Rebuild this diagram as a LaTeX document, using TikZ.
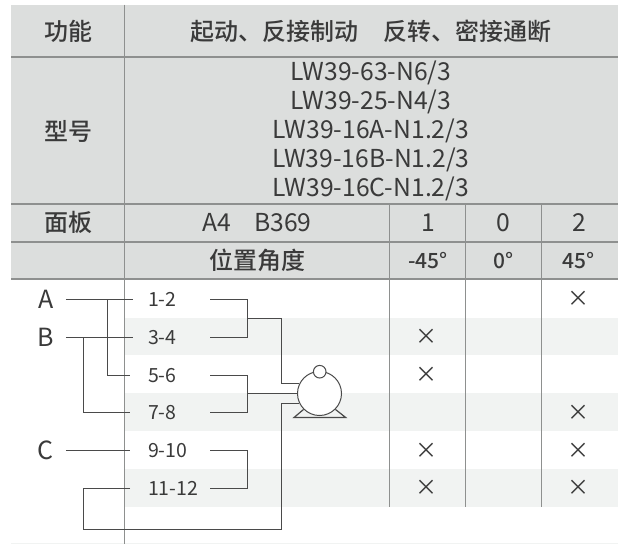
\documentclass[tikz,border=0pt]{standalone}
\usepackage{fontspec}
\setmainfont{Noto Sans CJK SC Medium}
\newfontfamily\regfont{Noto Sans CJK SC}
\usetikzlibrary{calc}
\definecolor{headfill}{HTML}{DCDEDD}
\definecolor{stripe}{HTML}{F1F3F2}
\definecolor{rule}{HTML}{8E908F}
\definecolor{ink}{HTML}{3A3A3A}
\definecolor{wire}{HTML}{4A4A4A}
\newcommand{\fs}[2]{\fontsize{#1}{#2}\selectfont}
\tikzset{
  x=1pt,y=-1pt,
  cell/.style={text=ink,inner sep=0,font=\regfont\fs{24.7}{29}},
  hcell/.style={text=ink,inner sep=0,font=\fs{24}{29}},
  ang/.style={text=ink,inner sep=0,font=\fs{21}{24}},
  phase/.style={text=ink,inner sep=0,font=\regfont\fs{25}{24},minimum width=40,align=center},
  term/.style={text=ink,inner xsep=0,inner ysep=0,outer xsep=18,text width=44,align=left,font=\regfont\fs{19.5}{22}},
  xmark/.style={text=ink,inner sep=0,font=\regfont\fs{22}{24}},
  vrule/.style={draw=rule,line width=1pt},
  hrule/.style={draw=rule,line width=1.2pt},
  wireline/.style={draw=wire,line width=1.2pt,line join=miter},
}
\begin{document}
\begin{tikzpicture}
\useasboundingbox (0,0) rectangle (618,544);
\fill[white] (0,0) rectangle (618,544);
\fill[headfill] (11,4.5) rectangle (618,279);
\foreach \a/\b in {318/355,393/431,469/507}{\fill[stripe] (124,\a) rectangle (618,\b);}
\draw[draw=stripe,line width=.8pt] (11,543.4) -- (618,543.4);
\foreach \y in {57,204,242,279}{\draw[hrule] (11,\y) -- (618,\y);}
\draw[vrule,line width=.8pt] (124.5,4.5) -- (124.5,544);
\draw[vrule,line width=1.3pt] (389.5,204) -- (389.5,507);
\draw[vrule] (465,204) -- (465,507);
\draw[vrule] (541,204) -- (541,507);
% header
\node[hcell] (gn) at (68,31) {功能};
\node[hcell] (gnv) at (371,31) {起动、反接制动\hspace{26pt}反转、密接通断};
\node[hcell] (xh) at (68,131) {型号};
\node[cell,align=center] (model) at (371,131) {LW39-63-N6/3\\LW39-25-N4/3\\LW39-16A-N1.2/3\\LW39-16B-N1.2/3\\LW39-16C-N1.2/3};
\node[hcell] (mb) at (68,222.5) {面板};
\node[cell] (mbv) at (257,222.5) {A4\hspace{23pt}B369};
\node[cell] (p1) at (428,222.5) {1};
\node[cell] (p0) at (503.5,222.5) {0};
\node[cell] (p2) at (579,222.5) {2};
\node[hcell] (wz) at (257,260.5) {位置角度};
\node[ang] (a1) at (428,260.5) {-45°};
\node[ang] (a0) at (503.5,260.5) {0°};
\node[ang] (a2) at (579,260.5) {45°};
% phases and terminals
\node[phase] (A) at (45.7,299.5) {A};
\node[phase] (B) at (45.7,337.5) {B};
\node[phase] (C) at (45.7,450.5) {C};
\node[term] (t1) at (170,299.5) {1-2};
\node[term] (t2) at (170,337.5) {3-4};
\node[term] (t3) at (170,375.5) {5-6};
\node[term] (t4) at (170,412.5) {7-8};
\node[term] (t5) at (170,450.5) {9-10};
\node[term] (t6) at (170,488.5) {\mbox{11-12}};
% marks
\node[xmark] (x1) at (578,299) {×};
\node[xmark] (x2) at (426.7,337) {×};
\node[xmark] (x3) at (426.7,375) {×};
\node[xmark] (x4) at (578,412.5) {×};
\node[xmark] (x5) at (426.7,450.5) {×};
\node[xmark] (x6) at (578,450.5) {×};
\node[xmark] (x7) at (426.7,488) {×};
\node[xmark] (x8) at (578,488) {×};
% motor
\coordinate (bl) at (294,417.5);
\coordinate (br) at (345.7,417.5);
\node[circle,draw=wire,line width=1pt,fill=white,minimum size=44,inner sep=0] (motor) at (319.5,393.5) {};
\node[circle,draw=wire,line width=1pt,fill=white,minimum size=12.6,inner sep=0] (aux) at (319.7,371.7) {};
\draw[wireline] (motor.225) -- (bl) -- (br) -- (motor.315);
% wiring
\coordinate (ja) at (107.5,299.5);
\coordinate (jb) at (83.5,337.5);
\draw[wireline] (A.east) -- ([xshift=3]t1.west);
\draw[wireline] (B.east) -- ([xshift=3]t2.west);
\draw[wireline] (C.east) -- (t5.west);
\draw[wireline] (ja) |- (t3.west);
\draw[wireline] (jb) |- (t4.west);
\coordinate (b1) at (247.5,318.5);
\coordinate (b2) at (247.5,393.5);
\coordinate (b3) at (281.5,318.5);
\coordinate (l1) at (83.5,529.5);
\coordinate (l2) at (281.5,529.5);
\draw[wireline] (t1.east) -- (b1 |- t1.east) -- (b1 |- t2.east) -- (t2.east);
\draw[wireline] (t3.east) -- (b2 |- t3.east) -- (b2 |- t4.east) -- (t4.east);
\draw[wireline] (t5.east) -- (b2 |- t5.east) -- (b2 |- t6.east) -- (t6.east);
\draw[wireline] (b1) -- (b3) |- (motor.153);
\draw[wireline] (b2) -- (motor.west);
\draw[wireline] (t6.west) -| (l1) -- (l2) |- (motor.207);
\end{tikzpicture}
\end{document}
